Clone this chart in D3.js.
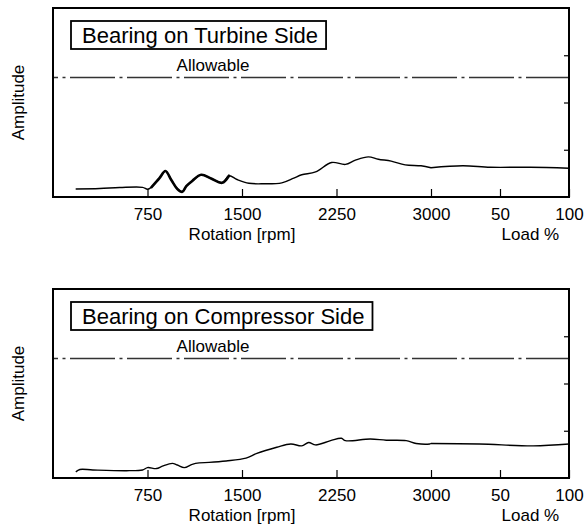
<!DOCTYPE html>
<html>
<head>
<meta charset="utf-8">
<script src="https://cdn.jsdelivr.net/npm/d3@7"></script>
<style>
  body { margin: 0; background: #fff; }
  text { font-family: "Liberation Sans", Arial, Helvetica, sans-serif; fill: #000; }
</style>
</head>
<body>
<svg id="chart" width="586" height="526"></svg>
<script>
// axis values
const rpmTicks = [750, 1500, 2250, 3000];
const loadTicks = [50, 100];
const ampTicks = [1, 2, 3];
const allowable = 2.53;

// turbine side bearing, run-up part (rpm) then load part (%)
const turbineRpm = [180, 371, 529, 711, 750, 782, 845, 892, 939, 987, 1026, 1058, 1105, 1176, 1255, 1342, 1397, 1461, 1555, 1674, 1816, 1911, 1974, 2084, 2211, 2321, 2400, 2503, 2582, 2684, 2795, 2921, 3000];
const turbineAmp = [0.17, 0.18, 0.2, 0.205, 0.165, 0.21, 0.4, 0.55, 0.36, 0.17, 0.11, 0.23, 0.34, 0.47, 0.39, 0.3, 0.45, 0.37, 0.29, 0.28, 0.3, 0.4, 0.47, 0.53, 0.73, 0.69, 0.78, 0.85, 0.8, 0.76, 0.68, 0.66, 0.62];
const turbineLoad = [0, 23, 43, 72, 100];
const turbineLoadAmp = [0.62, 0.66, 0.63, 0.63, 0.61];

// compressor side bearing
const compRpm = [181, 213, 316, 584, 711, 750, 821, 868, 947, 987, 1042, 1105, 1161, 1239, 1374, 1532, 1618, 1776, 1887, 1974, 2029, 2084, 2203, 2289, 2321, 2518, 2645, 2803, 2882, 2990, 3000];
const compAmp = [0.13, 0.18, 0.17, 0.155, 0.17, 0.22, 0.2, 0.25, 0.31, 0.275, 0.22, 0.29, 0.32, 0.33, 0.36, 0.42, 0.52, 0.65, 0.72, 0.68, 0.75, 0.7, 0.79, 0.84, 0.79, 0.825, 0.8, 0.79, 0.73, 0.72, 0.73];
const compLoad = [0, 35, 74, 100];
const compLoadAmp = [0.73, 0.72, 0.68, 0.72];

const svg = d3.select("#chart");
const W = 516, H = 189;

const xRpm = d3.scaleLinear().domain([0, 3000]).range([0, 378]);
const xLoad = d3.scaleLinear().domain([0, 100]).range([378, W]);
const y = d3.scaleLinear().domain([0, 4]).range([H, 0]);

function drawPanel(top, title, rpm, amp, load, loadAmp, thick) {
  const g = svg.append("g").attr("transform", `translate(53,${top})`);

  // amplitude label
  g.append("text")
    .attr("transform", `translate(-29,${H / 2}) rotate(-90)`)
    .attr("text-anchor", "middle")
    .attr("font-size", 17)
    .text("Amplitude");

  // allowable line
  g.append("line")
    .attr("x1", 0).attr("x2", W)
    .attr("y1", y(allowable)).attr("y2", y(allowable))
    .attr("stroke", "#333").attr("stroke-width", 1.4)
    .attr("stroke-dasharray", "45,4.5,3,4.5")
    .attr("stroke-dashoffset", 40);
  g.append("text")
    .attr("x", 160).attr("y", y(allowable) - 6)
    .attr("text-anchor", "middle")
    .attr("font-size", 17)
    .text("Allowable");

  // curve
  const pts = rpm.map((r, i) => [xRpm(r), y(amp[i])])
    .concat(load.map((l, i) => [xLoad(l), y(loadAmp[i])]));
  const line = d3.line().curve(d3.curveCatmullRom.alpha(0.5));
  g.append("path").attr("d", line(pts))
    .attr("fill", "none").attr("stroke", "#000")
    .attr("stroke-width", 1.4).attr("stroke-linejoin", "round");
  if (thick) {
    const seg = rpm.map((r, i) => [r, amp[i]]).filter(d => d[0] >= thick[0] && d[0] <= thick[1])
      .map(d => [xRpm(d[0]), y(d[1])]);
    g.append("path").attr("d", line(seg))
      .attr("fill", "none").attr("stroke", "#000")
      .attr("stroke-width", 2.6).attr("stroke-linejoin", "round").attr("stroke-linecap", "round");
  }

  // axes
  const styleAxis = a => {
    a.select(".domain").remove();
    a.selectAll(".tick line").attr("stroke", "#000").attr("stroke-width", 1.2);
    a.selectAll("text").attr("font-size", 17).attr("font-family", null).attr("fill", "#000");
  };
  g.append("g").attr("transform", `translate(0,${H})`)
    .call(d3.axisBottom(xRpm).tickValues(rpmTicks).tickFormat(d3.format("d"))
      .tickSizeInner(-8).tickSizeOuter(0).tickPadding(11))
    .call(styleAxis);
  g.append("g").attr("transform", `translate(0,${H})`)
    .call(d3.axisBottom(xLoad).tickValues(loadTicks).tickFormat(d3.format("d"))
      .tickSizeInner(-8).tickSizeOuter(0).tickPadding(11))
    .call(styleAxis);
  g.append("g").attr("transform", `translate(${W},0)`)
    .call(d3.axisRight(y).tickValues(ampTicks).tickSizeInner(-5).tickSizeOuter(0).tickFormat(""))
    .call(styleAxis);

  g.append("text").attr("x", xRpm(1500)).attr("y", H + 43)
    .attr("text-anchor", "middle").attr("font-size", 17).text("Rotation [rpm]");
  g.append("text").attr("x", xLoad(72)).attr("y", H + 43)
    .attr("text-anchor", "middle").attr("font-size", 17).text("Load %");

  // frame
  g.append("rect").attr("width", W).attr("height", H)
    .attr("fill", "none").attr("stroke", "#000").attr("stroke-width", 2);

  // title box
  const t = g.append("text").attr("x", 29).attr("y", 34.5)
    .attr("font-size", 22).text(title);
  const len = t.node().getComputedTextLength();
  g.insert("rect", "text")
    .attr("x", 18).attr("y", 13).attr("width", len + 19).attr("height", 28)
    .attr("fill", "#fff").attr("stroke", "#000").attr("stroke-width", 1.8);
}

drawPanel(8, "Bearing on Turbine Side", turbineRpm, turbineAmp, turbineLoad, turbineLoadAmp, [782, 1400]);
drawPanel(289, "Bearing on Compressor Side", compRpm, compAmp, compLoad, compLoadAmp, null);
</script>
</body>
</html>
